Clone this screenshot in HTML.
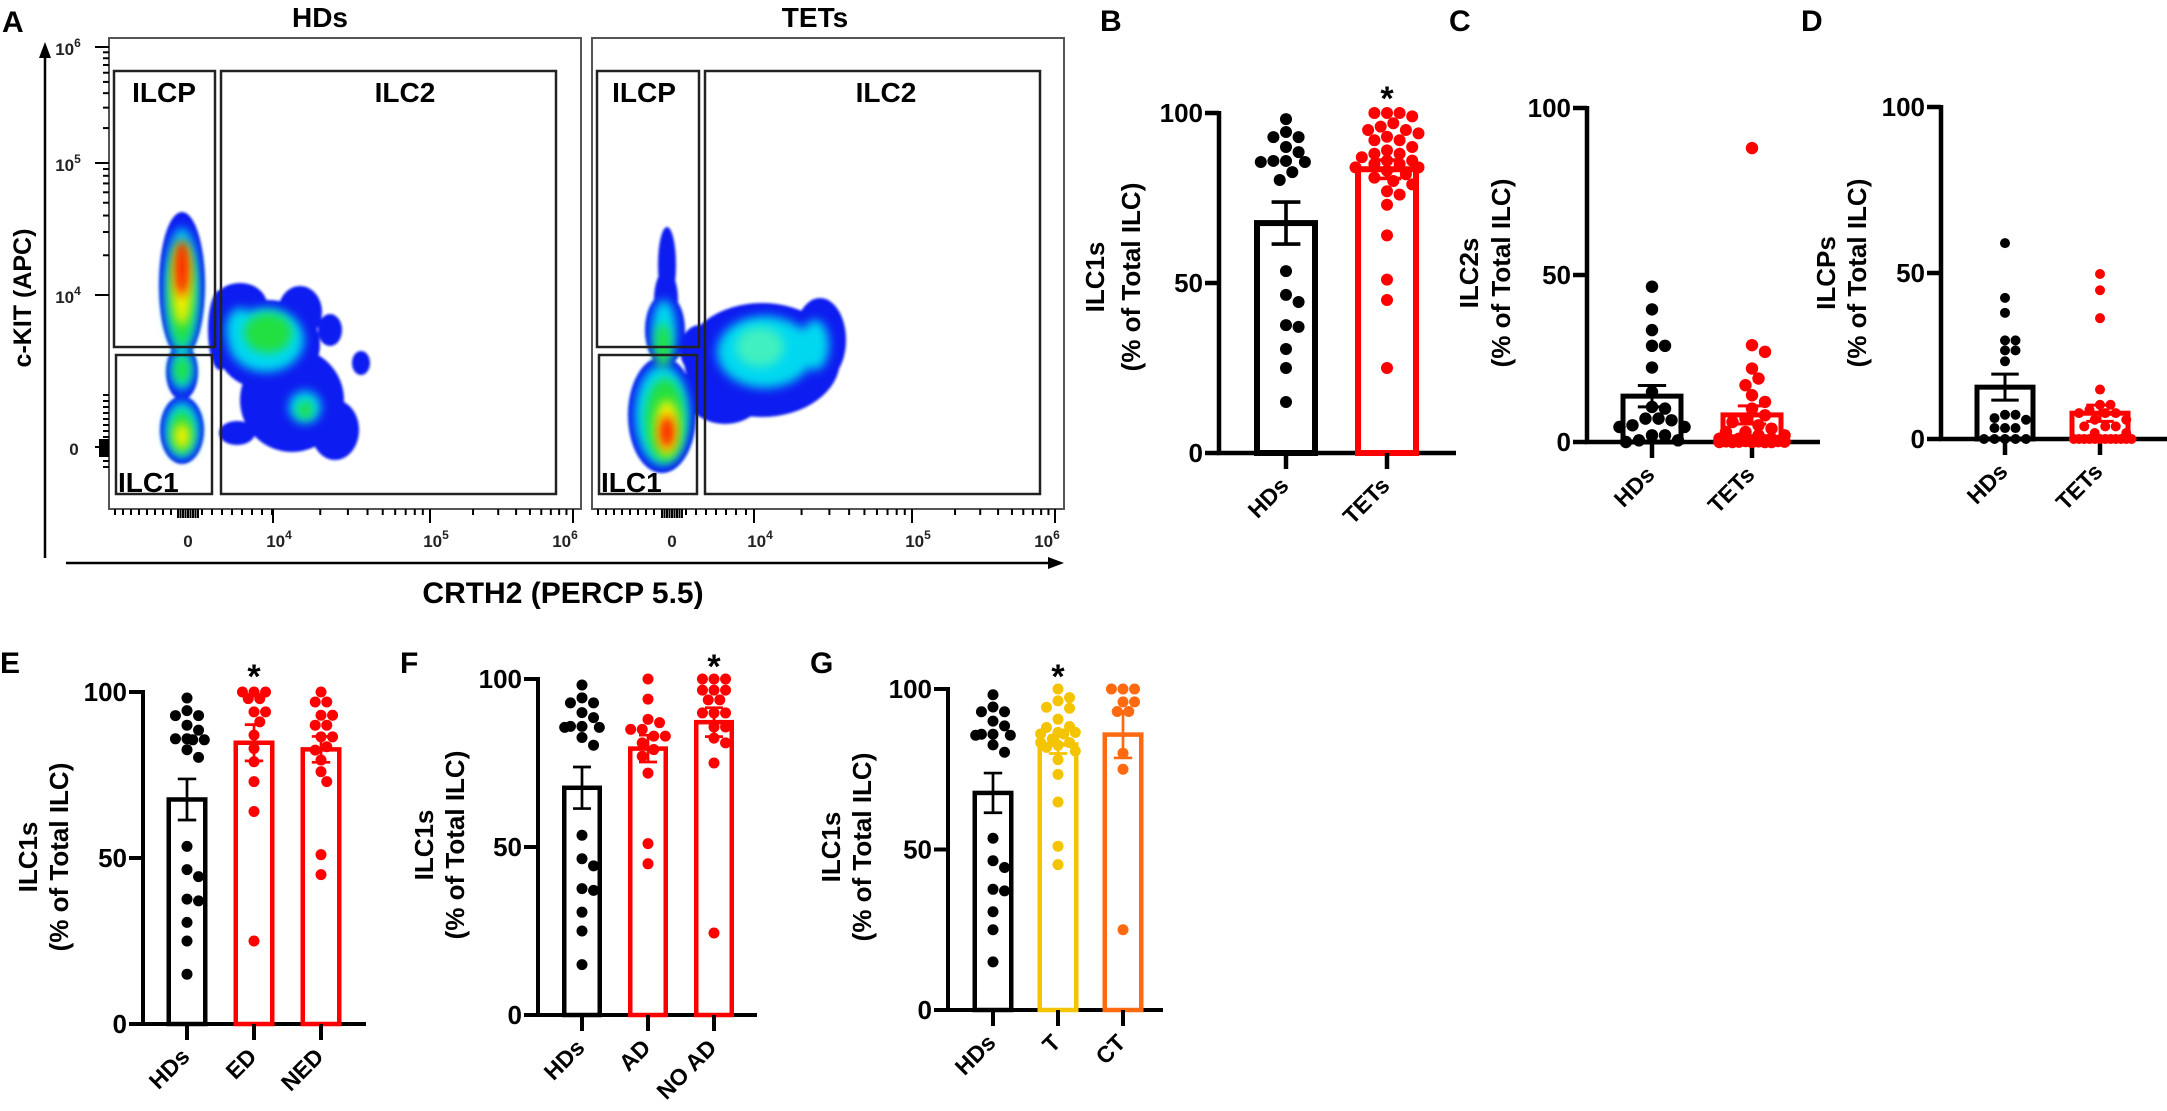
<!DOCTYPE html>
<html><head><meta charset="utf-8">
<style>
html,body{margin:0;padding:0;background:#fff;}
svg{display:block;}
.t{font-family:"Liberation Sans Narrow","Liberation Sans",sans-serif;font-weight:bold;font-stretch:condensed;}
.s{font-family:"Liberation Sans",sans-serif;font-weight:bold;}
</style></head>
<body>
<svg id="fig" width="2167" height="1111" viewBox="0 0 2167 1111" xmlns="http://www.w3.org/2000/svg">
<defs>
<filter id="bl" x="-50%" y="-50%" width="200%" height="200%"><feGaussianBlur stdDeviation="5"/></filter>
<filter id="bl2" x="-50%" y="-50%" width="200%" height="200%"><feGaussianBlur stdDeviation="1.2"/></filter>
</defs>
<g id="flow"></g>
<g id="charts"></g>
</svg>
<script>
// ---------- DATA ----------
const hdsILC1 = [98.2,94.4,92.9,92.9,90,88.5,85.9,85.6,85.9,85.6,82.6,80.3,53.5,46.5,44.4,37.6,37.1,30.6,25,15];
const tetsILC1 = [100,100,100,99,97,96,95,95,94,93,92,92,90,89,88,88,87,86,86,85,85,84,84,83,82,81,80,79,77,76,73,64,51,45,25];
const hdsILC2 = [46.5,39.7,33.5,28.8,28.8,22.3,15,10.5,10,7,7,6.5,5,4.5,4.5,2,2,0.5,0.5,0];
const tetsILC2 = [88,29,27,22,19,17,14,12,10,8,7,6,5,4,3,3,2,2,1,1,1,0.5,0.5,0.5,0.3,0.3,0.2,0.2,0.1,0.1,0,0,0,0,0];
const hdsILCP = [59,42.5,38,29.7,29.7,26.7,26.7,23.4,7.3,7.3,6.3,5.8,3.3,3.3,3.3,0,0,0,0,0];
const tetsILCP = [49.7,44.8,36.4,14.9,10.3,10.3,8.8,7.8,7.8,7.8,5.8,5.8,3.8,3.8,3.8,1.8,1.8,0,0,0,0,0,0,0,0,0,0,0,0];
const edILC1 = [100,100,100,98,98,94,94,91,87,83,79,73,64,25];
const nedILC1 = [100,97,97,93,93,90,90,86.5,86.5,83.5,82.5,79.5,76,73,51,45];
const adILC1 = [100,94,88,87,85,85,83,83,81,79,77,72,51,45];
const noadILC1 = [100,100,100,96.7,96.7,96.7,93.8,93.8,89.9,89.9,89.9,85.7,85.7,82.4,81,75,24.4];
const tILC1 = [100,97.3,96.3,94.3,94,90.6,88.3,88,86.5,86.5,86,86,84.4,83.3,83.3,82.5,81.8,80.7,78,73.4,64.8,51,45.3];
const ctILC1 = [100,100,100,96,96,93,93,80,75,25];
const yTicks = [0,50,100];
const catsB = ["HDs","TETs"];
const catsE = ["HDs","ED","NED"];
const catsF = ["HDs","AD","NO AD"];
const catsG = ["HDs","T","CT"];

const NS="http://www.w3.org/2000/svg";
function mk(parent,tag,attrs,text){const e=document.createElementNS(NS,tag);for(const k in attrs)e.setAttribute(k,attrs[k]);if(text!==undefined)e.textContent=text;parent.appendChild(e);return e;}
const charts=document.getElementById('charts');
const flow=document.getElementById('flow');

function mean(a){return a.reduce((s,v)=>s+v,0)/a.length;}
function sem(a){const m=mean(a);const v=a.reduce((s,x)=>s+(x-m)*(x-m),0)/(a.length-1);return Math.sqrt(v/a.length);}

function panel(cfg){
  const g=mk(charts,'g',{});
  
  
  const yS=v=>cfg.y0-(cfg.y0-cfg.y100)*v/100;
  const xS=i=>cfg.ax+cfg.first+i*cfg.step;
  const L=mk(g,'text',{x:cfg.lx,y:cfg.ly,'font-size':30,class:'t'},cfg.letter);
  
  
  const ya=mk(g,'line',{x1:cfg.ax,y1:cfg.y100-2,x2:cfg.ax,y2:cfg.y0+2,stroke:'#000','stroke-width':cfg.aw});
  
  
  const xa=mk(g,'line',{x1:cfg.ax-cfg.aw/2,y1:cfg.y0,x2:cfg.xEnd,y2:cfg.y0,stroke:'#000','stroke-width':cfg.aw});
  
  
  yTicks.forEach(v=>{
    mk(g,'line',{x1:cfg.ax-14,y1:yS(v),x2:cfg.ax,y2:yS(v),stroke:'#000','stroke-width':cfg.aw});
    const tl=mk(g,'text',{x:cfg.ax-16,y:yS(v)+9,'font-size':26,'text-anchor':'end',class:'t'},String(v));
    
    
  });
  const tt=mk(g,'text',{transform:`translate(${cfg.tx1},${cfg.ty}) rotate(-90)`,'font-size':26,'text-anchor':'middle',class:'s'},cfg.title);
  
  
  const tt2=mk(g,'text',{transform:`translate(${cfg.tx2},${cfg.ty}) rotate(-90)`,'font-size':26,'text-anchor':'middle',class:'s'},'(% of Total ILC)');
  
  
  cfg.groups.forEach((d,i)=>{
    const cx=xS(i), col=cfg.colors[i], m=mean(d), se=sem(d);
    const bw=cfg.bw, sw=cfg.sw;
    const bar=mk(g,'rect',{x:cx-bw/2+sw/2,y:yS(m),width:bw-sw,height:cfg.y0-yS(m),fill:'none',stroke:col,'stroke-width':sw});
    
    
    mk(g,'line',{x1:cx,y1:cfg.y0,x2:cx,y2:cfg.y0+16,stroke:'#000','stroke-width':cfg.aw});
    const lab=mk(g,'text',{transform:`translate(${cx+4},${cfg.y0+34}) rotate(-45)`,'font-size':23,'text-anchor':'end',class:'s'},cfg.cats[i]);
    
    
    const placed=[]; const r=cfg.r; const maxOff=bw/2+r*0.2;
    [...d].sort((a,b)=>b-a).forEach(v=>{
      const y=yS(v); let best=cx, bestD=-1;
      for(let n=0;n<40;n++){
        const off=(n===0?0:Math.ceil(n/2)*(n%2?1:-1))*r*1.05;
        if(Math.abs(off)>maxOff)continue;
        const x=cx+off;
        const md=placed.length?Math.min(...placed.map(p=>Math.hypot(p[0]-x,p[1]-y))):1e9;
        if(md>=r*1.9){best=x;bestD=md;break;}
        if(md>bestD){bestD=md;best=x;}
      }
      placed.push([best,y]);
      const c=mk(g,'circle',{cx:best,cy:y,r:r,fill:col});
      
      
    });
    const ew=bw*0.45;
    const eb=mk(g,'path',{d:`M${cx},${yS(m-se)}V${yS(m+se)}M${cx-ew/2},${yS(m+se)}H${cx+ew/2}M${cx-ew/2},${yS(m-se)}H${cx+ew/2}`,stroke:col,'stroke-width':cfg.sw*0.6,fill:'none'});
    
    
    if(cfg.star===i){
      const st=mk(g,'text',{x:cx,y:cfg.starY,'font-size':34,'text-anchor':'middle',class:'s'},'*');
      
      
    }
  });
}
const RED='#ff0000';
panel({id:'b',letter:'B',lx:1100,ly:31,ax:1219,y0:453,y100:113,xEnd:1456,first:67,step:101,bw:64,sw:6,aw:4.5,r:6,groups:[hdsILC1,tetsILC1],colors:['#000',RED],cats:catsB,title:'ILC1s',tx1:1104,tx2:1140,ty:277,star:1,starY:110});
panel({id:'c',letter:'C',lx:1449,ly:31,ax:1587,y0:442,y100:108,xEnd:1820,first:65,step:100,bw:63,sw:5,aw:4.5,r:6.2,groups:[hdsILC2,tetsILC2],colors:['#000',RED],cats:catsB,title:'ILC2s',tx1:1478,tx2:1510,ty:273});
panel({id:'d',letter:'D',lx:1801,ly:31,ax:1941,y0:439,y100:107,xEnd:2167,first:64,step:95,bw:61,sw:5,aw:4.5,r:5,groups:[hdsILCP,tetsILCP],colors:['#000',RED],cats:catsB,title:'ILCPs',tx1:1835,tx2:1866,ty:273});
panel({id:'e',letter:'E',lx:0,ly:673,ax:143,y0:1024,y100:692,xEnd:366,first:44,step:67,bw:41,sw:4.5,aw:4,r:5.5,groups:[hdsILC1,edILC1,nedILC1],colors:['#000',RED,RED],cats:catsE,title:'ILC1s',tx1:37,tx2:68,ty:857,star:1,starY:688});
panel({id:'f',letter:'F',lx:400,ly:673,ax:538,y0:1015,y100:679,xEnd:757,first:44,step:66,bw:40,sw:4.5,aw:4,r:5.5,groups:[hdsILC1,adILC1,noadILC1],colors:['#000',RED,RED],cats:catsF,title:'ILC1s',tx1:433,tx2:464,ty:845,star:2,starY:678});
panel({id:'g',letter:'G',lx:810,ly:673,ax:948,y0:1010,y100:689,xEnd:1163,first:45,step:65,bw:41,sw:4.5,aw:4,r:5.5,groups:[hdsILC1,tILC1,ctILC1],colors:['#000','#f5c400','#ff6a10'],cats:catsG,title:'ILC1s',tx1:840,tx2:871,ty:847,star:1,starY:688});

// ---------- FLOW PANEL ----------
function txt(p,attrs,s,name){const t=mk(p,'text',attrs,s);return t;}
txt(flow,{x:2,y:32,'font-size':30,class:'t'},'A','panel-letter-a');
txt(flow,{x:320,y:27,'font-size':28,'text-anchor':'middle',class:'t'},'HDs','plot-title-hds');
txt(flow,{x:815,y:27,'font-size':28,'text-anchor':'middle',class:'t'},'TETs','plot-title-tets');
txt(flow,{transform:'translate(31,298) rotate(-90)','font-size':25,'text-anchor':'middle',class:'s'},'c-KIT (APC)','y-axis-title-ckit');
txt(flow,{x:563,y:603,'font-size':30,'text-anchor':'middle',class:'t'},'CRTH2 (PERCP 5.5)','x-axis-title-crth2');
mk(flow,'line',{x1:45,y1:56,x2:45,y2:558,stroke:'#000','stroke-width':2.5});
mk(flow,'path',{d:'M45,42 L39,58 L51,58 Z',fill:'#000'});
mk(flow,'line',{x1:66,y1:563,x2:1050,y2:563,stroke:'#000','stroke-width':2.5});
mk(flow,'path',{d:'M1064,563 L1048,557 L1048,569 Z',fill:'#000'});

function blobs(p,list,blur){
  const g=mk(p,'g',{filter:blur?'url(#bl)':'url(#bl2)'});
  list.forEach(b=>mk(g,'ellipse',{cx:b[0],cy:b[1],rx:b[2],ry:b[3],fill:b[4]}));
}
function plot(x0,name,showY,gates,dens,xt){
  const g=mk(flow,'g',{});
  
  
  const x1=x0+472;
  mk(g,'rect',{x:x0,y:38,width:x1-x0,height:471,fill:'#fff',stroke:'#555','stroke-width':2});
  blobs(g,dens[0],false);
  blobs(g,dens[1],true);
  blobs(g,dens[2],true);
  blobs(g,dens[3],true);
  blobs(g,dens[4],true);
  gates.forEach(r=>{const gr=mk(g,'rect',{x:r[0],y:r[1],width:r[2]-r[0],height:r[3]-r[1],fill:'none',stroke:'#222','stroke-width':2.5});});
  gates.forEach(r=>{txt(g,{x:r[5],y:r[6],'font-size':28,'text-anchor':r[7],class:'t'},r[4],'gate-label-'+r[4].toLowerCase());});
  const bt=[];
  for(let x=x0+6;x<xt[0]-12;x+=8)bt.push([x,6]);
  for(let x=xt[0]-10;x<=xt[0]+10;x+=2.5)bt.push([x,9]);
  for(let x=xt[0]+14;x<xt[1];x+=10)bt.push([x,6]);
  [[xt[1],xt[2]],[xt[2],xt[3]]].forEach(([a,b])=>{for(let k=2;k<10;k++)bt.push([a+(b-a)*Math.log10(k),6]);});
  [xt[1],xt[2],xt[3]].forEach(x=>bt.push([x,14]));
  bt.forEach(([x,l])=>mk(g,'line',{x1:x,y1:509,x2:x,y2:509+l,stroke:'#000','stroke-width':2}));
  const lbl=[['0',xt[0]],['10',xt[1]+6],['10',xt[2]+6],['10',xt[3]-8]];
  lbl.forEach((l,i)=>{const t=txt(g,{x:l[1],y:547,'font-size':17,'text-anchor':'middle',class:'t',fill:'#222'},l[0],'x-tick-label');
    if(i>0){mk(t,'tspan',{dy:-8,'font-size':12},String(i+3));}});
  if(showY){
    const yt=[47,163,295,447];
    const ytl=[];
    [[yt[1],yt[0]],[yt[2],yt[1]]].forEach(([a,b])=>{for(let k=2;k<10;k++)ytl.push([a+(b-a)*Math.log10(k),6]);});
    yt.forEach(y=>ytl.push([y,14]));
    for(let y=395;y<=470;y+=6)ytl.push([y,6]);
    for(let y=440;y<=456;y+=2)ytl.push([y,10]);
    ytl.forEach(([y,l])=>mk(g,'line',{x1:x0-l,y1:y,x2:x0,y2:y,stroke:'#000','stroke-width':2}));
    [['10',6,yt[0]],['10',5,yt[1]],['10',4,yt[2]]].forEach(l=>{const t=txt(g,{x:68,y:l[2]+8,'font-size':17,'text-anchor':'middle',class:'t',fill:'#222'},l[0],'y-tick-label');mk(t,'tspan',{dy:-8,'font-size':12},String(l[1]));});
    txt(g,{x:74,y:455,'font-size':17,'text-anchor':'middle',class:'t',fill:'#222'},'0','y-tick-label');
  }
}
const B='#0a1cf0',C='#00d8f0',G='#20e040',Y='#f0f000',R='#ff1800';
plot(109,'plot-hds',true,
 [[114,71,215,347,'ILCP',164,102,'middle'],[221,71,556,494,'ILC2',405,102,'middle'],[116,355,212,494,'ILC1',118,492,'start']],
 [
  [[182,285,23,73,B],[182,372,16,28,B],[182,430,22,34,B],[240,305,27,22,B],[268,345,52,45,B],[300,312,22,26,B],[330,330,12,16,B],[292,400,52,52,B],[335,430,24,30,B],[361,363,9,12,B],[237,433,18,12,B],[220,330,12,40,B]],
  [[182,290,17,62,C],[182,430,17,28,C],[182,370,11,20,C],[266,340,38,32,C],[305,407,16,16,C],[240,330,14,22,C]],
  [[182,295,13,52,G],[182,432,12,22,G],[182,370,8,14,G],[268,333,24,20,G],[305,410,8,9,G]],
  [[182,285,10,40,Y],[182,436,8,13,Y]],
  [[182,268,7,28,R],[182,262,5,18,R]]
 ],[188,273,430,573]);
plot(592,'plot-tets',false,
 [[597,71,699,347,'ILCP',644,102,'middle'],[705,71,1040,494,'ILC2',886,102,'middle'],[599,355,697,494,'ILC1',601,492,'start']],
 [
  [[667,265,9,38,B],[666,300,12,30,B],[665,330,20,36,B],[662,415,34,58,B],[762,360,78,57,B],[820,340,26,42,B],[725,388,42,36,B],[700,350,20,25,B]],
  [[664,330,12,30,C],[662,415,27,50,C],[765,352,48,36,C],[815,345,14,25,C]],
  [[663,345,8,22,G],[665,420,20,42,G],[760,347,24,20,'#40f0c0']],
  [[667,428,12,28,Y]],
  [[667,432,7,16,R]]
 ],[672,754,912,1055]);
</script>
</body></html>
